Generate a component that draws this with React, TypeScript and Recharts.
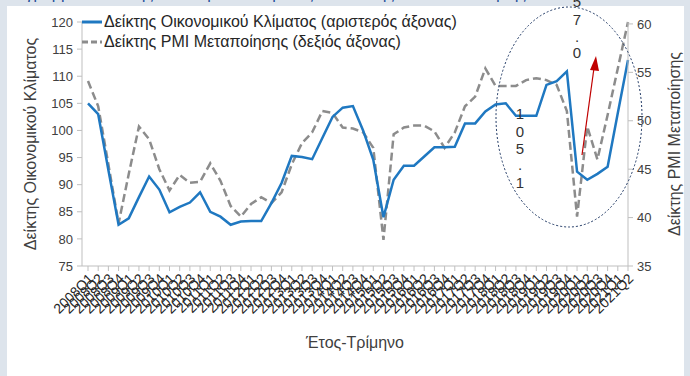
import { LineChart, Line, XAxis, YAxis, Legend } from 'recharts'

const quarters = [
  '2008Q1', '2008Q2', '2008Q3', '2008Q4', '2009Q1', '2009Q2', '2009Q3', '2009Q4',
  '2010Q1', '2010Q2', '2010Q3', '2010Q4', '2011Q1', '2011Q2', '2011Q3', '2011Q4',
  '2012Q1', '2012Q2', '2012Q3', '2012Q4', '2013Q1', '2013Q2', '2013Q3', '2013Q4',
  '2014Q1', '2014Q2', '2014Q3', '2014Q4', '2015Q1', '2015Q2', '2015Q3', '2015Q4',
  '2016Q1', '2016Q2', '2016Q3', '2016Q4', '2017Q1', '2017Q2', '2017Q3', '2017Q4',
  '2018Q1', '2018Q2', '2018Q3', '2018Q4', '2019Q1', '2019Q2', '2019Q3', '2019Q4',
  '2020Q1', '2020Q2', '2020Q3', '2020Q4', '2021Q1', '2021Q2',
]

// Δείκτης Οικονομικού Κλίματος (left axis)
const climateIndex = [
  105.0, 103.0, 92.7, 82.6, 83.8, 87.7, 91.5, 89.1, 84.9, 85.9, 86.7, 88.6, 85.0, 84.1,
  82.6, 83.2, 83.3, 83.3, 86.6, 90.3, 95.3, 95.1, 94.7, 98.6, 102.5, 104.2, 104.5, 100.0,
  94.6, 84.0, 90.9, 93.5, 93.5, 95.2, 96.9, 96.9, 97.0, 101.3, 101.3, 103.5, 104.8, 105.0,
  102.7, 102.7, 102.7, 108.4, 109.1, 110.9, 92.4, 90.9, 92.0, 93.3, 103.2, 113.0,
]

// Δείκτης PMI Μεταποίησης (right axis)
const pmiIndex = [
  54.1, 51.5, 45.5, 39.4, 44.5, 49.4, 48.1, 45.0, 42.8, 44.4, 43.6, 43.7, 45.6, 43.8,
  41.2, 40.1, 41.4, 42.1, 41.5, 42.6, 45.5, 47.7, 48.8, 51.0, 50.8, 49.3, 49.2, 48.8,
  47.2, 37.7, 48.6, 49.3, 49.5, 49.5, 48.9, 47.2, 48.8, 51.5, 52.5, 55.4, 53.6, 53.6,
  53.6, 54.2, 54.4, 54.2, 53.7, 51.0, 40.1, 49.4, 46.0, 50.6, 55.4, 60.2,
]

const leftTicks = [75, 80, 85, 90, 95, 100, 105, 110, 115, 120]
const rightTicks = [35, 40, 45, 50, 55, 60]

const data = quarters.map((q, i) => ({ q, climate: climateIndex[i], pmi: pmiIndex[i] }))

const BLUE = '#1f78c1'
const GRAY = '#8c8c8c'
const AXIS = '#bfbfbf'
const TEXT = '#404040'
const FONT = '"Liberation Sans", Arial, sans-serif'

const QuarterTick = ({ x, y, payload }: any) => (
  <text
    x={x}
    y={y}
    dy={9}
    textAnchor="end"
    fontSize={14}
    fill="#262626"
    fontFamily={FONT}
    transform={`rotate(-45, ${x}, ${y})`}
  >
    {payload.value}
  </text>
)

const LegendBox = () => (
  <div style={{ fontSize: 16, color: '#262626', lineHeight: '20px', fontFamily: FONT }}>
    <div style={{ display: 'flex', alignItems: 'center', whiteSpace: 'nowrap' }}>
      <svg width={22} height={20}>
        <line x1={0} y1={10} x2={20} y2={10} stroke={BLUE} strokeWidth={3} />
      </svg>
      <span>Δείκτης Οικονομικού Κλίματος (αριστερός άξονας)</span>
    </div>
    <div style={{ display: 'flex', alignItems: 'center', whiteSpace: 'nowrap' }}>
      <svg width={22} height={20}>
        <line x1={0} y1={10} x2={20} y2={10} stroke={GRAY} strokeWidth={3} strokeDasharray="6 3" />
      </svg>
      <span>Δείκτης PMI Μεταποίησης (δεξιός άξονας)</span>
    </div>
  </div>
)

export default function App() {
  return (
    <div
      style={{
        position: 'absolute',
        left: 0,
        top: 0,
        width: 690,
        height: 376,
        background: '#dde4ec',
        overflow: 'hidden',
        fontFamily: FONT,
      }}
    >
      <div
        style={{
          position: 'absolute',
          left: 0,
          top: 0,
          width: 690,
          height: 6,
          overflow: 'hidden',
        }}
      >
        <div style={{ marginTop: -15, fontSize: 16, color: '#1f4e99', whiteSpace: 'nowrap', paddingLeft: 2 }}>
          Διάγραμμα 7: Δείκτης Οικονομικού Κλίματος και Δείκτης PMI Μεταποίησης
        </div>
      </div>
      <div
        style={{ position: 'absolute', left: 7, top: 6, width: 677, height: 370, background: '#ffffff' }}
      />
      <div style={{ position: 'absolute', left: 0, top: 0 }}>
        <LineChart
          width={690}
          height={376}
          data={data}
          margin={{ top: 22, right: 0, bottom: 40, left: 0 }}
        >
          <XAxis
            dataKey="q"
            scale="point"
            padding={{ left: 6, right: 0 }}
            interval={0}
            height={70}
            tick={<QuarterTick />}
            tickSize={5}
            tickMargin={2}
            stroke={AXIS}
            tickLine={{ stroke: AXIS }}
            label={{
              value: 'Έτος-Τρίμηνο',
              position: 'bottom',
              offset: 1,
              fill: TEXT,
              fontSize: 16,
              fontFamily: FONT,
            }}
          />
          <YAxis
            yAxisId="left"
            domain={[75, 120]}
            ticks={leftTicks}
            width={82}
            tickSize={5}
            tickMargin={4}
            stroke={AXIS}
            tick={{ fill: TEXT, fontSize: 13, fontFamily: FONT }}
            label={{
              value: 'Δείκτης Οικονομικού Κλίματος',
              angle: -90,
              position: 'insideLeft',
              offset: 30,
              style: { textAnchor: 'middle', fill: TEXT, fontSize: 16, fontFamily: FONT },
            }}
          />
          <YAxis
            yAxisId="right"
            orientation="right"
            domain={[35, 60]}
            ticks={rightTicks}
            width={62}
            tickSize={5}
            tickMargin={4}
            stroke={AXIS}
            tick={{ fill: TEXT, fontSize: 13, fontFamily: FONT }}
            label={{
              value: 'Δείκτης PMI Μεταποίησης',
              angle: -90,
              position: 'insideRight',
              offset: 16,
              style: { textAnchor: 'middle', fill: TEXT, fontSize: 16, fontFamily: FONT },
            }}
          />
          <Legend
            layout="horizontal"
            verticalAlign="middle"
            align="center"
            content={<LegendBox />}
            wrapperStyle={{ left: 82, top: 12, width: 'auto' }}
          />
          <Line
            yAxisId="right"
            type="linear"
            dataKey="pmi"
            stroke={GRAY}
            strokeWidth={2.5}
            strokeDasharray="8 4"
            dot={false}
            isAnimationActive={false}
          />
          <Line
            yAxisId="left"
            type="linear"
            dataKey="climate"
            stroke={BLUE}
            strokeWidth={2.5}
            dot={false}
            isAnimationActive={false}
          />
        </LineChart>
      </div>
      <svg
        width={690}
        height={376}
        style={{ position: 'absolute', left: 0, top: 0, pointerEvents: 'none' }}
      >
        <ellipse cx={569} cy={117} rx={73} ry={110} fill="none" stroke="#1f3864" strokeWidth={1} strokeDasharray="2 2" />
        <line x1={582} y1={155} x2={594} y2={68} stroke="#c00000" strokeWidth={1.2} />
        <polygon points="596,56 590,70 599,71" fill="#c00000" />
        <g fontSize={15} fill="#333" fontFamily={FONT} textAnchor="middle">
          <text x={577} y={7}>5</text>
          <text x={577} y={25}>7</text>
          <text x={577} y={42}>.</text>
          <text x={577} y={58}>0</text>
          <text x={520} y={119}>1</text>
          <text x={520} y={137}>0</text>
          <text x={520} y={154}>5</text>
          <text x={520} y={170}>.</text>
          <text x={520} y={188}>1</text>
        </g>
      </svg>
    </div>
  )
}
